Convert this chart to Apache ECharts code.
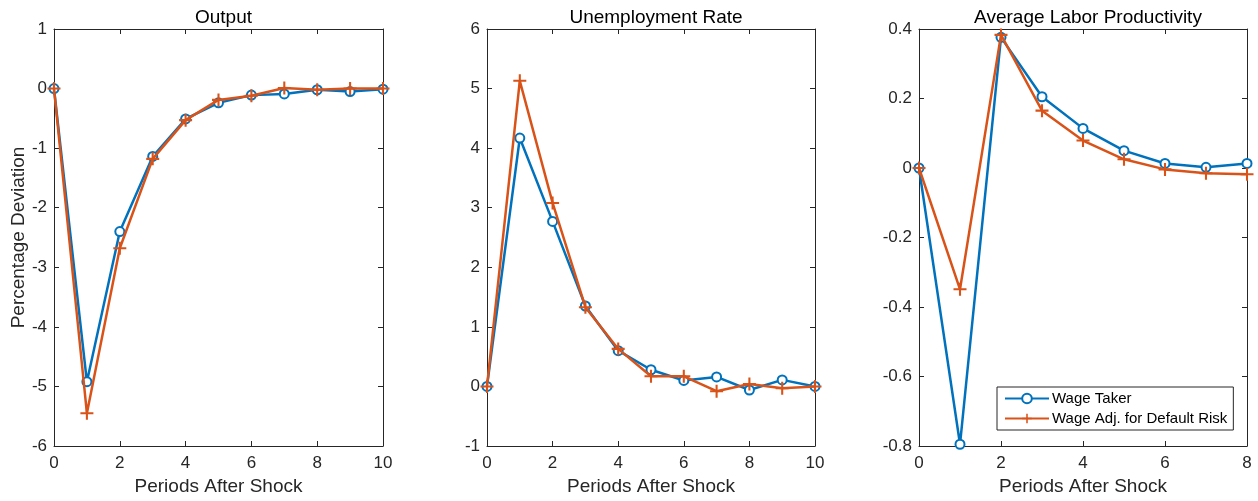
<!DOCTYPE html>
<html>
<head>
<meta charset="utf-8">
<script src="https://cdn.jsdelivr.net/npm/echarts@6/dist/echarts.min.js"></script>
<style>
  html, body { margin: 0; padding: 0; background: #fff; }
  #chart { width: 1258px; height: 501px; }
</style>
</head>
<body>
<div id="chart"></div>
<script>
// periods after the shock
var periods10 = [0, 1, 2, 3, 4, 5, 6, 7, 8, 9, 10];
var periods8 = [0, 1, 2, 3, 4, 5, 6, 7, 8];

// Output
var outputTaker = [0, -4.92, -2.40, -1.14, -0.51, -0.24, -0.11, -0.09, -0.02, -0.05, -0.01];
var outputAdj = [0, -5.45, -2.68, -1.18, -0.53, -0.19, -0.12, 0.01, -0.02, 0.0, 0.0];

// Unemployment Rate
var unempTaker = [0, 4.17, 2.77, 1.35, 0.60, 0.28, 0.10, 0.16, -0.06, 0.11, 0.0];
var unempAdj = [0, 5.13, 3.08, 1.33, 0.63, 0.17, 0.17, -0.08, 0.04, -0.03, 0.0];

// Average Labor Productivity
var alpTaker = [0, -0.795, 0.376, 0.205, 0.114, 0.05, 0.013, 0.002, 0.013];
var alpAdj = [0, -0.349, 0.383, 0.165, 0.079, 0.025, -0.004, -0.015, -0.018];

var titles = ['Output', 'Unemployment Rate', 'Average Labor Productivity'];
var names = ['Wage Taker', 'Wage Adj. for Default Risk'];

var blue = '#0072BD';
var red = '#D95319';
var ink = '#262626';
var font = 'Liberation Sans, Arial, Helvetica, sans-serif';
var plusPath = 'path://M-1,-0.16 H1 V0.16 H-1 Z M-0.16,-1 H0.16 V1 H-0.16 Z';

var panels = [
  { left: 54, width: 329, xMax: 10, yMin: -6, yMax: 1, yInt: 1, x: periods10, a: outputTaker, b: outputAdj },
  { left: 487, width: 328, xMax: 10, yMin: -1, yMax: 6, yInt: 1, x: periods10, a: unempTaker, b: unempAdj },
  { left: 919, width: 328, xMax: 8, yMin: -0.8, yMax: 0.4, yInt: 0.2, x: periods8, a: alpTaker, b: alpAdj }
];

function pairs(xs, ys) {
  return xs.map(function (x, i) { return [x, ys[i]]; });
}

var grids = [], xAxes = [], yAxes = [], series = [], titleList = [];

panels.forEach(function (p, i) {
  grids.push({ left: p.left, top: 29, width: p.width, height: 417, containLabel: false });
  titleList.push({
    text: titles[i], left: p.left + p.width / 2, top: 3, textAlign: 'center',
    textStyle: { fontFamily: font, fontSize: 19, fontWeight: 'normal', color: '#000' }
  });
  var tick = { show: true, inside: true, length: 5, lineStyle: { color: ink } };
  var line = { show: true, onZero: false, lineStyle: { color: ink, width: 1 } };
  xAxes.push({
    type: 'value', gridIndex: i, min: 0, max: p.xMax, interval: 2, position: 'bottom',
    name: 'Periods After Shock', nameLocation: 'middle', nameGap: 31,
    nameTextStyle: { fontFamily: font, fontSize: 19, color: ink },
    axisLine: line, axisTick: tick, splitLine: { show: false },
    axisLabel: { fontFamily: font, fontSize: 17, color: ink, margin: 9 }
  });
  xAxes.push({
    type: 'value', gridIndex: i, min: 0, max: p.xMax, interval: 2, position: 'top',
    axisLine: line, axisTick: tick, splitLine: { show: false }, axisLabel: { show: false }
  });
  var yLabel = { fontFamily: font, fontSize: 17, color: ink, margin: 7 };
  if (i === 2) {
    yLabel.formatter = function (v) { return v === 0 ? '0' : v.toFixed(1); };
  }
  yAxes.push({
    type: 'value', gridIndex: i, min: p.yMin, max: p.yMax, interval: p.yInt, position: 'left',
    name: i === 0 ? 'Percentage Deviation' : '', nameLocation: 'middle', nameGap: 26,
    nameTextStyle: { fontFamily: font, fontSize: 19, color: ink },
    axisLine: line, axisTick: tick, splitLine: { show: false }, axisLabel: yLabel
  });
  yAxes.push({
    type: 'value', gridIndex: i, min: p.yMin, max: p.yMax, interval: p.yInt, position: 'right',
    axisLine: line, axisTick: tick, splitLine: { show: false }, axisLabel: { show: false }
  });
  series.push({
    name: names[0], type: 'line', xAxisIndex: i * 2, yAxisIndex: i * 2,
    data: pairs(p.x, p.a), symbol: 'emptyCircle', symbolSize: 9,
    lineStyle: { color: blue, width: 2.5 },
    itemStyle: { color: blue, borderColor: blue, borderWidth: 2.2 },
    animation: false, z: 2
  });
  series.push({
    name: names[1], type: 'line', xAxisIndex: i * 2, yAxisIndex: i * 2,
    data: pairs(p.x, p.b), symbol: plusPath, symbolSize: 13,
    lineStyle: { color: red, width: 2.5 },
    itemStyle: { color: red, borderWidth: 0 },
    animation: false, z: 3
  });
});

var chart = echarts.init(document.getElementById('chart'), null, { renderer: 'canvas' });
chart.setOption({
  backgroundColor: '#fff',
  animation: false,
  title: titleList,
  grid: grids,
  xAxis: xAxes,
  yAxis: yAxes,
  legend: {
    data: names, orient: 'vertical', left: 997, top: 387,
    backgroundColor: '#fff', borderColor: ink, borderWidth: 1,
    padding: [4, 6, 4, 7], itemGap: 5, itemWidth: 44, itemHeight: 12,
    textStyle: { fontFamily: font, fontSize: 15, color: '#000', padding: [0, 0, 0, -2] }
  },
  series: series
});
</script>
</body>
</html>
